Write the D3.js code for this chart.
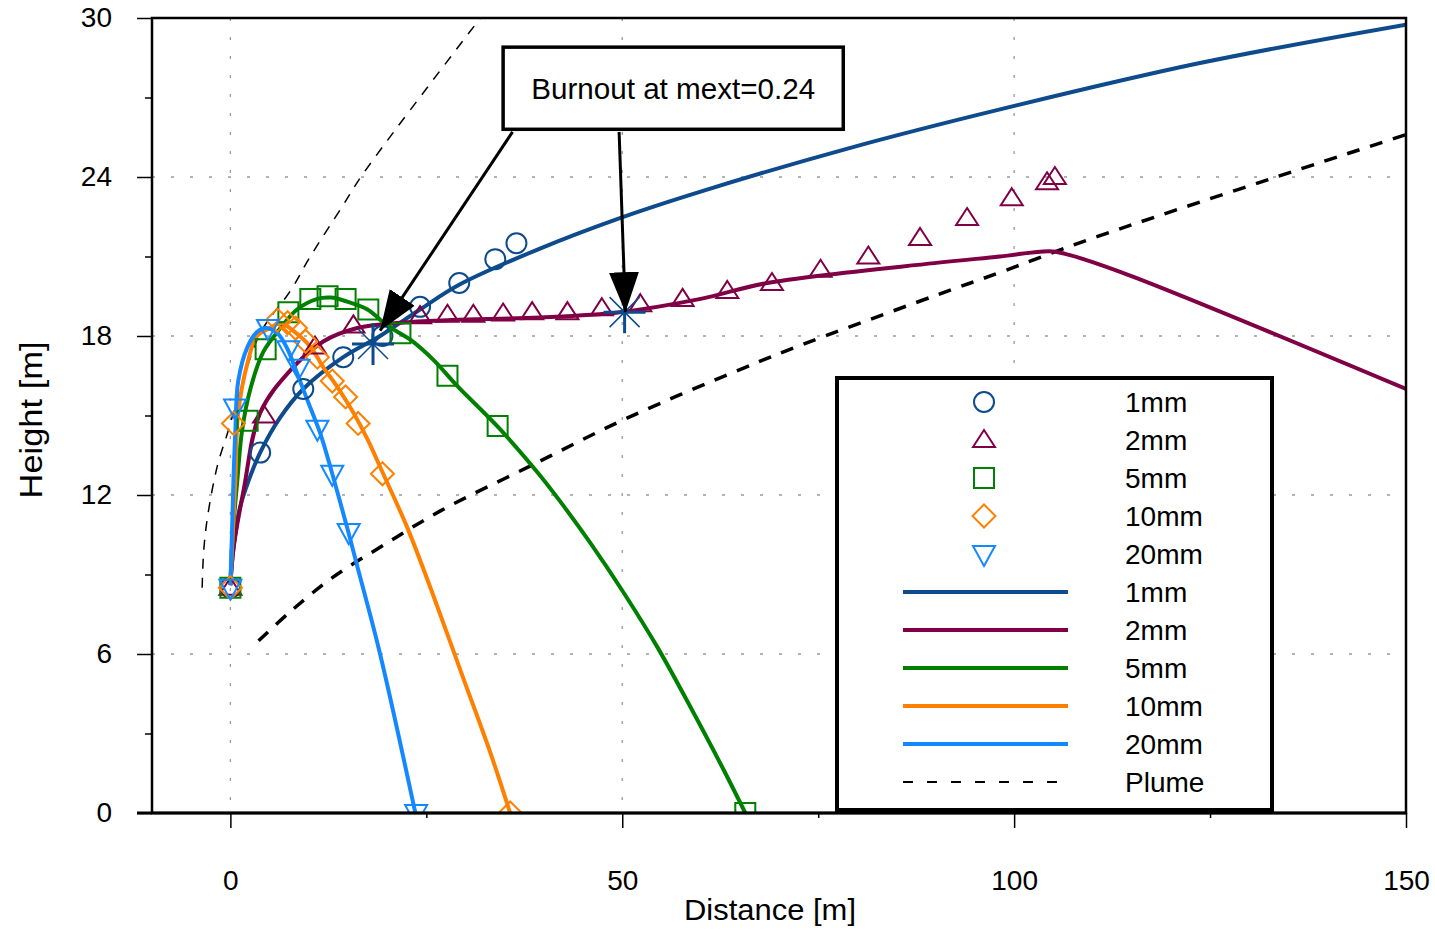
<!DOCTYPE html>
<html>
<head>
<meta charset="utf-8">
<script src="https://cdn.jsdelivr.net/npm/d3@7"></script>
<style>
  body { margin: 0; background: #fff; }
  svg { display: block; font-family: "Liberation Sans", Arial, sans-serif; }
</style>
</head>
<body>
<svg id="chart" width="1435" height="930"></svg>
<script>
// ---- data ----
const xTicks = [0, 50, 100, 150];
const xMinor = [25, 75, 125];
const yTicks = [0, 6, 12, 18, 24, 30];
const yMinor = [3, 9, 15, 21, 27];

const sizes = ['1mm', '2mm', '5mm', '10mm', '20mm'];
const colors = ['#0d4b8c', '#800045', '#008000', '#ff8000', '#1488ff'];

// model curves
const line1mm = [[0,8.6],[0.4,10.0],[1.2,11.5],[2.4,12.6],[3.8,13.6],[6.3,14.9],[9.3,16.0],[14.4,17.2],[19.1,18.0],[24.2,19.0],[29.3,19.95],[39.5,21.3],[49.7,22.45],[60,23.45],[79.1,25.1],[98.2,26.55],[123.7,28.3],[150,29.75]];
const line2mm = [[0,8.6],[0.4,10.0],[1.7,12.2],[3.8,15.1],[7.65,16.7],[11.9,17.8],[16.2,18.3],[21.7,18.5],[28.2,18.6],[39.5,18.7],[49.7,18.9],[60,19.4],[68.5,20.0],[89.8,20.75],[98.2,21.0],[104.5,21.2],[106.5,21.1],[113.7,20.4],[150,16.0]];
const line5mm = [[0,8.6],[0.3,10.5],[0.9,12.6],[1.5,14.45],[2.55,16.0],[4.2,17.4],[6.4,18.3],[8.5,19.0],[11.1,19.4],[12.8,19.45],[14.9,19.3],[17.5,19.0],[20.0,18.4],[23.0,17.85],[25.9,17.1],[29.0,16.1],[34.2,14.55],[39.2,12.85],[42.1,11.75],[45.9,10.2],[50.1,8.35],[54.5,6.25],[58.7,4.0],[62.9,1.65],[65.7,0]];
const line10mm = [[0,8.6],[0.3,10.5],[0.64,12.6],[1.0,15.1],[2.2,17.0],[3.4,18.0],[5.1,18.3],[6.4,18.5],[8.0,18.2],[10.2,17.6],[11.9,16.8],[13.6,16.1],[15.7,15.1],[17.5,14.1],[19.5,12.8],[22.6,10.75],[25.9,8.2],[29.7,5.1],[33.2,2.25],[35.7,0]];
const line20mm = [[0,8.6],[0.2,10.5],[0.4,12.6],[0.64,14.45],[1.0,16.3],[2.2,17.6],[3.4,18.15],[4.5,18.3],[6.0,18.1],[7.3,17.5],[8.5,16.6],[9.8,15.6],[11.5,14.3],[13.0,12.8],[15.05,10.6],[16.2,9.3],[19.1,6.0],[23.6,0]];

// measured points
const pts1mm = [[0,8.5],[3.8,13.6],[9.3,16.0],[14.4,17.2],[19.4,18.0],[24.2,19.1],[29.2,20.0],[33.8,20.9],[36.5,21.5]];
const pts2mm = [[0,8.5],[4.3,15.0],[10.8,17.6],[15.7,18.4],[24.2,18.75],[27.7,18.8],[31.0,18.8],[34.8,18.85],[38.5,18.9],[43.0,18.9],[47.4,19.05],[52.3,19.2],[57.7,19.4],[63.4,19.7],[69.1,20.0],[75.3,20.5],[81.4,21.0],[88.0,21.7],[94.0,22.45],[99.7,23.2],[104.2,23.8],[105.2,24.0]];
const pts5mm = [[0,8.5],[2.2,14.8],[4.5,17.5],[7.4,18.9],[10.2,19.4],[12.4,19.5],[14.7,19.4],[17.6,19.0],[21.7,18.1],[27.7,16.5],[34.1,14.6],[65.7,0]];
const pts10mm = [[0,8.5],[0.4,14.7],[6.0,18.6],[7.3,18.5],[8.3,18.3],[9.6,17.8],[11.1,17.2],[13.0,16.3],[14.7,15.7],[16.3,14.7],[19.4,12.8],[35.7,0]];
const pts20mm = [[0,8.5],[0.6,15.3],[4.8,18.3],[7.4,17.5],[8.7,16.8],[11.1,14.5],[13.0,12.8],[15.1,10.6],[23.7,0]];

// plume boundaries
const plumeInner = [[-3.6,8.5],[-3.4,9.9],[-2.9,11.2],[-1.66,13.1],[-0.4,14.3],[0.9,15.6],[3.8,18.1],[7.65,19.7],[10.2,21.0],[14.3,22.9],[17.0,24.15],[31.9,30.0]];
const plumeOuter = [[3.6,6.5],[7.65,7.6],[13.1,8.9],[19.5,10.1],[26.8,11.4],[38.3,13.1],[50.6,14.9],[67.2,17.0],[72.3,17.6],[89.7,19.5],[98.2,20.4],[110.1,21.7],[150,25.6]];

// burnout points and annotation
const burnout = [[18.2,17.7],[50.3,18.9]];
const noteText = 'Burnout at mext=0.24';
const noteBox = [[34.8,28.9],[78.2,25.8]];
const noteArrows = [[[36.0,25.7],[19.1,18.2]], [[49.6,25.7],[50.4,18.9]]];

const lines = [line1mm, line2mm, line5mm, line10mm, line20mm];
const points = [pts1mm, pts2mm, pts5mm, pts10mm, pts20mm];
const shapes = ['circle', 'triangle', 'square', 'diamond', 'down'];

// ---- layout ----
const svg = d3.select('#chart');
const pLeft = 152, pRight = 1406, pTop = 18, pBottom = 813;

const x = d3.scaleLinear().domain([-10, 150]).range([pLeft, pRight]);
const y = d3.scaleLinear().domain([0, 30]).range([pBottom, pTop]);

svg.append('defs').append('clipPath').attr('id', 'plot')
  .append('rect').attr('x', pLeft).attr('y', pTop)
  .attr('width', pRight - pLeft).attr('height', pBottom - pTop);

// gridlines
const grid = svg.append('g').attr('stroke', '#999').attr('stroke-width', 1.3)
  .attr('stroke-dasharray', '3,16');
grid.selectAll('.gy').data(yTicks.slice(1, -1)).enter().append('line')
  .attr('x1', pLeft).attr('x2', pRight).attr('y1', d => y(d)).attr('y2', d => y(d));
grid.selectAll('.gx').data(xTicks.slice(0, -1)).enter().append('line')
  .attr('y1', pTop).attr('y2', pBottom).attr('x1', d => x(d)).attr('x2', d => x(d));

// axes
svg.append('g').attr('transform', `translate(${pLeft},0)`)
  .call(d3.axisLeft(y).tickValues(yTicks).tickSize(15).tickPadding(25));
svg.append('g').attr('transform', `translate(${pLeft},0)`)
  .call(d3.axisLeft(y).tickValues(yMinor).tickSize(7).tickFormat(''));
svg.append('g').attr('transform', `translate(0,${pBottom})`)
  .call(d3.axisBottom(x).tickValues(xTicks).tickSize(15).tickPadding(42));
svg.append('g').attr('transform', `translate(0,${pBottom})`)
  .call(d3.axisBottom(x).tickValues(xMinor).tickSize(5).tickFormat(''));
svg.selectAll('.domain').remove();
svg.selectAll('.tick line').attr('stroke', '#000').attr('stroke-width', 1.5);
svg.selectAll('.tick text').attr('font-size', 28).attr('fill', '#000')
  .attr('font-family', '"Liberation Sans", Arial, sans-serif');

svg.append('text').attr('x', 770).attr('y', 920).attr('text-anchor', 'middle')
  .attr('font-size', 30).attr('textLength', 172).attr('lengthAdjust', 'spacingAndGlyphs')
  .text('Distance [m]');
svg.append('text').attr('transform', 'translate(42,420) rotate(-90)')
  .attr('text-anchor', 'middle').attr('font-size', 31)
  .attr('textLength', 157).attr('lengthAdjust', 'spacingAndGlyphs')
  .text('Height [m]');

const plot = svg.append('g').attr('clip-path', 'url(#plot)');
const curve = d3.line().x(d => x(d[0])).y(d => y(d[1])).curve(d3.curveCatmullRom.alpha(0.5));

// plume
plot.append('path').attr('d', curve(plumeInner)).attr('fill', 'none')
  .attr('stroke', '#000').attr('stroke-width', 1.5).attr('stroke-dasharray', '10,9');
plot.append('path').attr('d', curve(plumeOuter)).attr('fill', 'none')
  .attr('stroke', '#000').attr('stroke-width', 3.5).attr('stroke-dasharray', '13,11');

// model lines
plot.selectAll('.model').data(lines).enter().append('path')
  .attr('d', d => curve(d)).attr('fill', 'none')
  .attr('stroke', (d, i) => colors[i]).attr('stroke-width', 4);

// marker shapes
function shapePath(kind, s) {
  const p = d3.path();
  if (kind === 'circle') { p.moveTo(s, 0); p.arc(0, 0, s, 0, 2 * Math.PI); }
  else if (kind === 'triangle') { p.moveTo(0, -s * 1.0); p.lineTo(s * 1.1, s * 0.7); p.lineTo(-s * 1.1, s * 0.7); p.closePath(); }
  else if (kind === 'down') { p.moveTo(0, s * 1.2); p.lineTo(s * 1.1, -s * 0.8); p.lineTo(-s * 1.1, -s * 0.8); p.closePath(); }
  else if (kind === 'square') { p.rect(-s, -s, 2 * s, 2 * s); }
  else if (kind === 'diamond') { p.moveTo(0, -s * 1.15); p.lineTo(s * 1.15, 0); p.lineTo(0, s * 1.15); p.lineTo(-s * 1.15, 0); p.closePath(); }
  return p.toString();
}

points.forEach((set, i) => {
  plot.selectAll('.m' + i).data(set).enter().append('path')
    .attr('transform', d => `translate(${x(d[0])},${y(d[1])})`)
    .attr('d', shapePath(shapes[i], 10))
    .attr('fill', 'none').attr('stroke', colors[i]).attr('stroke-width', 2);
});

// burnout asterisks
const star = plot.selectAll('.burn').data(burnout).enter().append('g')
  .attr('transform', d => `translate(${x(d[0])},${y(d[1])})`)
  .attr('stroke', colors[0]);
star.append('path').attr('d', 'M-21,0H21M0,-21V21').attr('stroke-width', 3);
star.append('path').attr('d', 'M-15,-15L15,15M-15,15L15,-15').attr('stroke-width', 1.5);

// annotation
const head = svg.select('defs').append('marker').attr('id', 'head')
  .attr('markerUnits', 'userSpaceOnUse').attr('markerWidth', 44).attr('markerHeight', 34)
  .attr('refX', 40).attr('refY', 15).attr('orient', 'auto');
head.append('path').attr('d', 'M0,0L40,15L0,30Z').attr('fill', '#000');

svg.selectAll('.arrow').data(noteArrows).enter().append('line')
  .attr('x1', d => x(d[0][0])).attr('y1', d => y(d[0][1]))
  .attr('x2', d => x(d[1][0])).attr('y2', d => y(d[1][1]))
  .attr('stroke', '#000').attr('stroke-width', 3).attr('marker-end', 'url(#head)');

svg.append('rect')
  .attr('x', x(noteBox[0][0])).attr('y', y(noteBox[0][1]))
  .attr('width', x(noteBox[1][0]) - x(noteBox[0][0]))
  .attr('height', y(noteBox[1][1]) - y(noteBox[0][1]))
  .attr('fill', '#fff').attr('stroke', '#000').attr('stroke-width', 3.5);
svg.append('text')
  .attr('x', (x(noteBox[0][0]) + x(noteBox[1][0])) / 2)
  .attr('y', (y(noteBox[0][1]) + y(noteBox[1][1])) / 2 + 11)
  .attr('text-anchor', 'middle').attr('font-size', 30)
  .attr('textLength', 284).attr('lengthAdjust', 'spacingAndGlyphs')
  .text(noteText);

// legend
const legend = svg.append('g').attr('transform', 'translate(837,378)');
legend.append('rect').attr('width', 435).attr('height', 432)
  .attr('fill', '#fff').attr('stroke', '#000').attr('stroke-width', 4);
const rowY = i => 24 + 38 * i;
sizes.forEach((s, i) => {
  legend.append('path').attr('transform', `translate(147,${rowY(i)})`)
    .attr('d', shapePath(shapes[i], 10))
    .attr('fill', 'none').attr('stroke', colors[i]).attr('stroke-width', 2);
  legend.append('line').attr('x1', 66).attr('x2', 231)
    .attr('y1', rowY(i + 5)).attr('y2', rowY(i + 5))
    .attr('stroke', colors[i]).attr('stroke-width', 4);
});
legend.append('line').attr('x1', 66).attr('x2', 231)
  .attr('y1', rowY(10)).attr('y2', rowY(10))
  .attr('stroke', '#000').attr('stroke-width', 2).attr('stroke-dasharray', '10,14');
const labels = sizes.concat(sizes, ['Plume']);
legend.selectAll('.lt').data(labels).enter().append('text')
  .attr('x', 288).attr('y', (d, i) => rowY(i) + 10)
  .attr('font-size', 28).text(d => d);

// frame
svg.append('rect').attr('x', pLeft).attr('y', pTop)
  .attr('width', pRight - pLeft).attr('height', pBottom - pTop)
  .attr('fill', 'none').attr('stroke', '#000').attr('stroke-width', 2.5);
svg.append('line').attr('x1', pLeft - 15).attr('x2', pRight)
  .attr('y1', pBottom).attr('y2', pBottom).attr('stroke', '#000').attr('stroke-width', 3);
</script>
</body>
</html>
